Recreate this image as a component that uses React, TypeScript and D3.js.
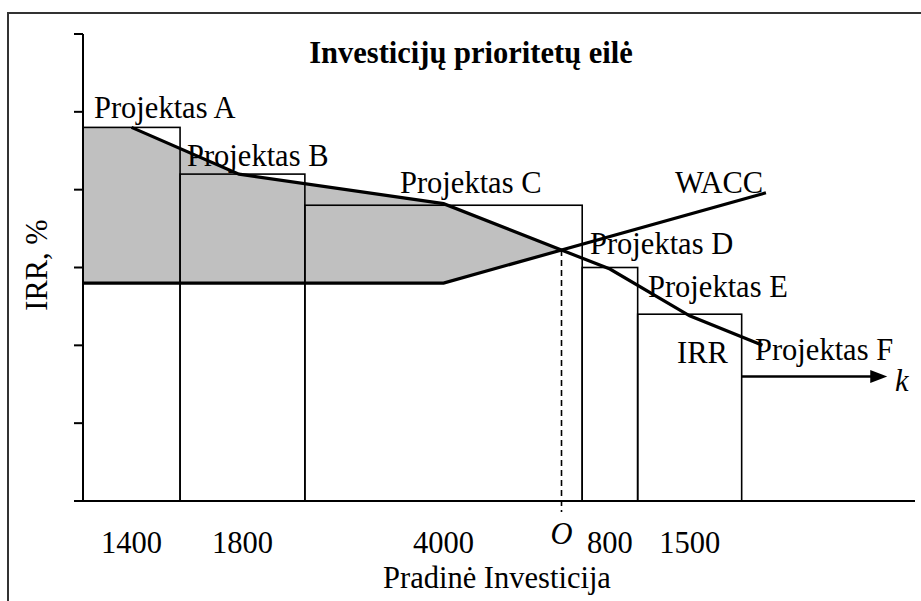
import React from 'react';
import * as d3 from 'd3';

// project order, initial investment and IRR (%)
const projects = ['A', 'B', 'C', 'D', 'E', 'F'];
const investments = [1400, 1800, 4000, 800, 1500, 2100];
const irrValues = [24, 21, 19, 15, 12, 8];

// IRR curve through the step tops
const irrCurveX = [700, 2250, 5200, 7600, 8750, 9800];
const irrCurveY = [24, 21, 19.1, 14.9, 11.9, 10];

// WACC line
const waccX = [0, 5200, 9850];
const waccY = [14, 14, 19.8];

const yTicks = [0, 5, 10, 15, 20, 25, 30];
const xTickLabels = ['1400', '1800', '4000', '800', '1500'];

const W = 921;
const H = 601;
const FONT = '"Liberation Serif", "Times New Roman", serif';

function segIntersect(a: number[][], b: number[][]) {
  for (let i = 0; i < a.length - 1; i++) {
    for (let j = 0; j < b.length - 1; j++) {
      const [x1, y1] = a[i], [x2, y2] = a[i + 1];
      const [x3, y3] = b[j], [x4, y4] = b[j + 1];
      const d = (x1 - x2) * (y3 - y4) - (y1 - y2) * (x3 - x4);
      if (d === 0) continue;
      const t = ((x1 - x3) * (y3 - y4) - (y1 - y3) * (x3 - x4)) / d;
      const u = -((x1 - x2) * (y1 - y3) - (y1 - y2) * (x1 - x3)) / d;
      if (t >= 0 && t <= 1 && u >= 0 && u <= 1) {
        return { pt: [x1 + t * (x2 - x1), y1 + t * (y2 - y1)], i, j };
      }
    }
  }
  return null;
}

const App: React.FC = () => {
  const x = d3.scaleLinear().domain([0, 12000]).range([83, 915]);
  const y = d3.scaleLinear().domain([0, 30]).range([501, 34]);

  const starts = d3.cumsum([0, ...investments.slice(0, -1)]);
  const bars = projects.map((p, i) => ({
    p,
    x0: starts[i],
    x1: starts[i] + investments[i],
    irr: irrValues[i],
  }));

  const irrPts = irrCurveX.map((v, i) => [v, irrCurveY[i]]);
  const waccPts = waccX.map((v, i) => [v, waccY[i]]);
  const hit = segIntersect(irrPts, waccPts)!;
  const [ox, oy] = hit.pt;

  // shaded gap between IRR and WACC up to the optimum
  const shade = [
    [0, irrValues[0]],
    ...irrPts.slice(0, hit.i + 1),
    [ox, oy],
    ...waccPts.slice(0, hit.j + 1).reverse(),
  ];

  const line = d3.line<number[]>().x((d) => x(d[0])).y((d) => y(d[1]));
  const shadePath = line(shade) + 'Z';

  const last = bars[bars.length - 1];
  const shown = bars.slice(0, -1);
  const tipX = x(last.x1);
  const fy = y(last.irr);

  const txt = { fontFamily: FONT, fontSize: 30.5, fill: '#000' } as const;

  return (
    <svg
      width={W}
      height={H}
      style={{ position: 'absolute', left: 0, top: 0, background: '#fff' }}
    >
      {/* frame */}
      <path d={`M8,${H}V13H${W}`} fill="none" stroke="#333" strokeWidth={2} />

      <text x={471} y={63} textAnchor="middle" {...txt} fontWeight="bold">
        Investicijų prioritetų eilė
      </text>

      <path d={shadePath} fill="#c0c0c0" stroke="none" />

      {/* project steps */}
      {shown.map((b) => (
        <rect
          key={b.p}
          x={x(b.x0)}
          y={y(b.irr)}
          width={x(b.x1) - x(b.x0)}
          height={y(0) - y(b.irr)}
          fill="none"
          stroke="#000"
          strokeWidth={1.6}
        />
      ))}
      <path d={`M${x(last.x0)},${fy}H${tipX - 14}`} stroke="#000" strokeWidth={2.5} />
      <path d={`M${tipX},${fy}L${tipX - 17},${fy - 6.5}L${tipX - 17},${fy + 6.5}Z`} fill="#000" />

      {/* axes */}
      <line x1={x(0)} x2={x(0)} y1={y(30)} y2={y(0)} stroke="#000" strokeWidth={2} />
      {yTicks.map((t) => (
        <line key={t} x1={x(0) - 9} x2={x(0)} y1={y(t)} y2={y(t)} stroke="#000" strokeWidth={2} />
      ))}
      <line x1={x(0) - 9} x2={x(12000)} y1={y(0)} y2={y(0)} stroke="#000" strokeWidth={2} />

      {/* optimum */}
      <line
        x1={x(ox)}
        x2={x(ox)}
        y1={y(oy)}
        y2={y(0) + 11}
        stroke="#000"
        strokeWidth={1.6}
        strokeDasharray="6,4"
      />

      <path d={line(waccPts)!} fill="none" stroke="#000" strokeWidth={3.2} />
      <path d={line(irrPts)!} fill="none" stroke="#000" strokeWidth={3.2} />

      {xTickLabels.map((l, i) => (
        <text key={l} x={x((bars[i].x0 + bars[i].x1) / 2)} y={553} textAnchor="middle" {...txt}>
          {l}
        </text>
      ))}
      <text x={x(ox)} y={544} textAnchor="middle" {...txt} fontStyle="italic">
        O
      </text>
      <text x={497} y={588} textAnchor="middle" {...txt}>
        Pradinė Investicija
      </text>
      <text transform="translate(47,265) rotate(-90)" textAnchor="middle" {...txt}>
        IRR, %
      </text>

      <text x={94} y={118} {...txt}>Projektas A</text>
      <text x={187} y={166} {...txt}>Projektas B</text>
      <text x={400} y={193} {...txt}>Projektas C</text>
      <text x={590} y={254} {...txt}>Projektas D</text>
      <text x={648} y={297} {...txt}>Projektas E</text>
      <text x={755} y={360} {...txt}>Projektas F</text>
      <text x={675} y={193} {...txt}>WACC</text>
      <text x={677} y={363} {...txt}>IRR</text>
      <text x={895} y={391} {...txt} fontStyle="italic">k</text>
    </svg>
  );
};

export default App;
